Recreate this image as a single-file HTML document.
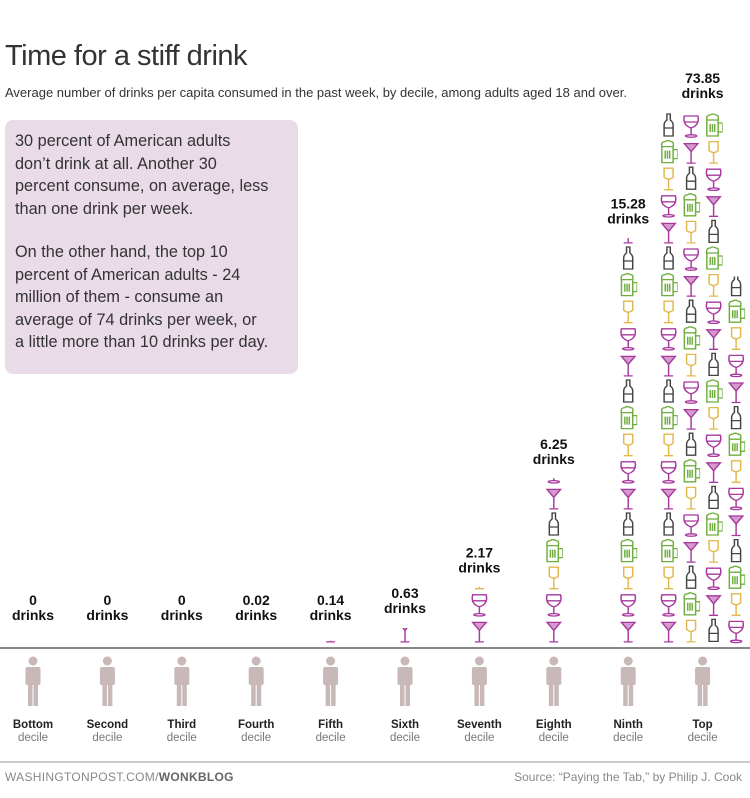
<!DOCTYPE html>
<html><head><meta charset="utf-8">
<style>
body{margin:0;background:#fff;width:750px;height:798px;overflow:hidden;font-family:"Liberation Sans",sans-serif;}
#title{position:absolute;left:5px;top:40px;font-size:29px;color:#333;font-weight:300;letter-spacing:-0.5px}
#sub{position:absolute;left:5px;top:85px;font-size:13px;color:#333}
#box{position:absolute;left:5px;top:120px;width:255px;height:244px;padding:10px 28px 0 10px;background:#eadbe8;border-radius:8px;font-size:16.3px;line-height:22.5px;color:#333}
#box p{margin:0 0 21px 0}
</style></head><body>
<div id="title">Time for a stiff drink</div>
<div id="sub">Average number of drinks per capita consumed in the past week, by decile, among adults aged 18 and over.</div>
<div id="box"><p>30 percent of American adults don’t drink at all. Another 30 percent consume, on average, less than one drink per week.</p><p>On the other hand, the top 10 percent of American adults - 24 million of them - consume an average of 74 drinks per week, or a little more than 10 drinks per day.</p></div>
<svg id="chart" width="750" height="798" style="position:absolute;left:0;top:0">
<defs>
<g id="i0" fill="none" stroke="#a8389d" stroke-width="1.3"><path d="M2,4 L14,4 L8,12 Z"/><path d="M3,5 L13,5 L8,11Z" fill="#a8389d" opacity="0.5"/><line x1="8" y1="12" x2="8" y2="23"/><line x1="4" y1="23.5" x2="12" y2="23.5"/></g>
<g id="i1" fill="none" stroke="#a8389d" stroke-width="1.3"><path d="M2,3 L14,3 Q16,12 8,15 Q0,12 2,3Z"/><path d="M2,9 L14,9" /><line x1="8" y1="15" x2="8" y2="22"/><ellipse cx="8" cy="23" rx="5" ry="1.2"/></g>
<g id="i2" fill="none" stroke="#e2b84c" stroke-width="1.3"><path d="M4,2 L12,2 L12,11 Q8,15 4,11Z"/><line x1="8" y1="13" x2="8" y2="23"/><line x1="4" y1="23.5" x2="12" y2="23.5"/></g>
<g id="i3" fill="none" stroke="#6fae3e" stroke-width="1.3"><path d="M2,7 L12,7 L12,23 L2,23Z"/><path d="M12,10 L16,10 L16,19 L12,19"/><path d="M2,7 Q1,2 5,2 Q7,0 10,2 Q13,2 12,7"/><line x1="5" y1="11" x2="5" y2="19"/><line x1="7" y1="11" x2="7" y2="19"/><line x1="9" y1="11" x2="9" y2="19"/></g>
<g id="i4" fill="none" stroke="#444" stroke-width="1.3"><path d="M6.5,1 L9.5,1 L9.5,7 Q12,9 12,12 L12,23 L4,23 L4,12 Q4,9 6.5,7Z"/><line x1="4" y1="15" x2="12" y2="15"/></g>
</defs>
</svg>
<script>
const deciles=["Bottom","Second","Third","Fourth","Fifth","Sixth","Seventh","Eighth","Ninth","Top"];
const values=[0,0,0,0.02,0.14,0.63,2.17,6.25,15.28,73.85];
const valueLabels=["0","0","0","0.02","0.14","0.63","2.17","6.25","15.28","73.85"];
const NS="http://www.w3.org/2000/svg";
const svg=document.getElementById('chart');
const base=645, cellH=26.6, perCol=20, iconW=18;
function xCenter(i){return 33+i*74.4;}
function yPos(v){return base-v*cellH;}
function mk(tag,attrs,parent){const e=document.createElementNS(NS,tag);for(const k in attrs)e.setAttribute(k,attrs[k]);(parent||svg).appendChild(e);return e;}
const bl=mk('line',{x1:0,y1:648,x2:750,y2:648,stroke:'#888','stroke-width':2});


const fl=mk('line',{x1:0,y1:762,x2:750,y2:762,stroke:'#999','stroke-width':1});


values.forEach((v,i)=>{
  const cx=xCenter(i);
  const nCols=Math.max(1,Math.ceil(v/perCol));
  const colGap=22.5;
  const colX=c=> nCols>1 ? cx-34+c*colGap : cx;
  const g=mk('g',{});
  
  
  let remaining=v, c=0;
  while(remaining>0.0001){
    const colVal=Math.min(perCol,remaining);
    const full=Math.floor(colVal), frac=colVal-full;
    const n=full+(frac>0?1:0);
    for(let k=0;k<n;k++){
      const f=(k<full)?1:frac;
      const top=base-(k+1)*cellH;
      const type=(k+c*2)%5;
      const h=26*f;
      const hh=Math.max(h,0.5);
      const s=mk('svg',{x:colX(c)-iconW/2,y:top+(26-hh),width:iconW,height:hh,viewBox:`0 ${26-hh} 16 ${hh}`,preserveAspectRatio:'none',overflow:'hidden'},g);
      mk('use',{href:'#i'+type},s);
      
      
    }
    remaining-=colVal;c++;
  }
  const topY = Math.min(v>=perCol ? yPos(perCol) : yPos(v), base-10);
  const labY = v===0 ? 605 : topY-30;
  const t1=mk('text',{x:cx,y:labY,'text-anchor':'middle','font-size':14,'font-weight':'bold',fill:'#111'});
  t1.textContent=valueLabels[i];
  
  
  const t2=mk('text',{x:cx,y:labY+15,'text-anchor':'middle','font-size':14,'font-weight':'bold',fill:'#111'});
  t2.textContent='drinks';
  
  
  const p=mk('g',{fill:'#c9b8b8',transform:`translate(${cx},0)`});
  
  
  mk('circle',{cx:0,cy:661,r:4.5},p);
  mk('rect',{x:-7.5,y:667,width:15,height:18,rx:2},p);
  mk('rect',{x:-5,y:684,width:4.5,height:22},p);
  mk('rect',{x:0.5,y:684,width:4.5,height:22},p);
  const n1=mk('text',{x:cx,y:728,'text-anchor':'middle','font-size':11.5,'font-weight':'bold',fill:'#222'});
  n1.textContent=deciles[i];
  
  
  const n2=mk('text',{x:cx,y:741,'text-anchor':'middle','font-size':11.5,fill:'#777'});
  n2.textContent='decile';
  
  
});
const ft=mk('text',{x:5,y:781,'font-size':12,fill:'#888','letter-spacing':'0.3'});
ft.innerHTML='WASHINGTONPOST.COM/<tspan font-weight="bold" fill="#666">WONKBLOG</tspan>';


const src=mk('text',{x:742,y:781,'text-anchor':'end','font-size':12,fill:'#888'});
src.textContent='Source: “Paying the Tab,” by Philip J. Cook';


</script>
</body></html>
